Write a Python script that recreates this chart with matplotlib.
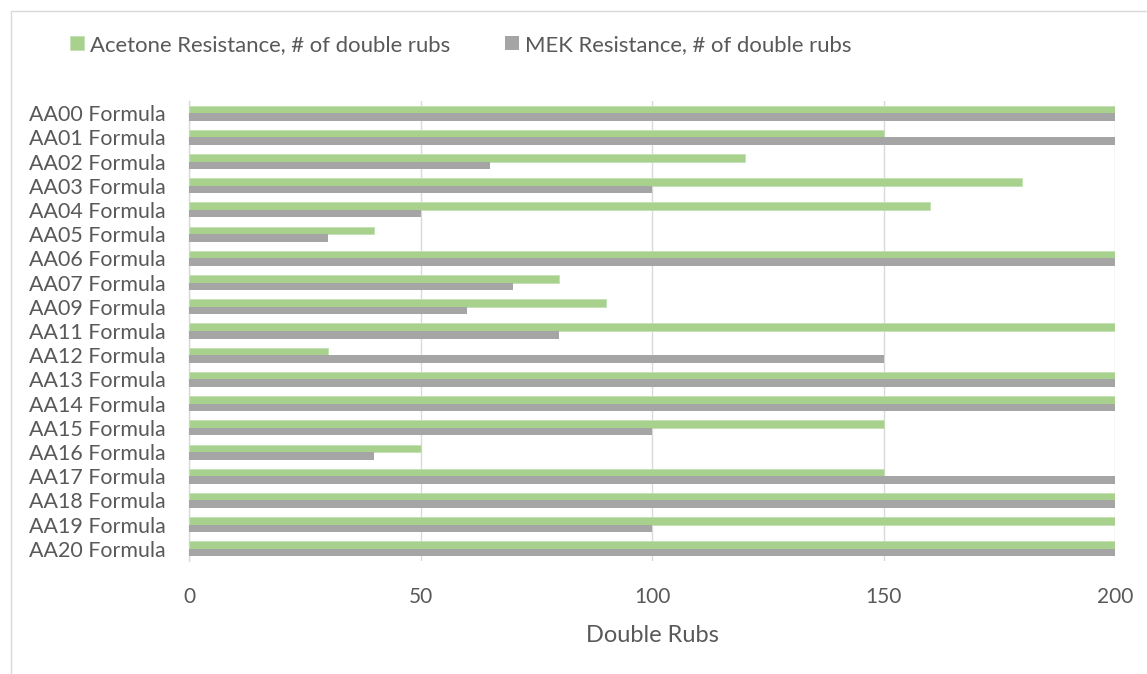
import matplotlib
matplotlib.use("Agg")
import matplotlib.pyplot as plt
from matplotlib.patches import Rectangle
import numpy as np

plt.rcParams['font.family'] = ['Lato', 'DejaVu Sans']

categories = ["AA00 Formula", "AA01 Formula", "AA02 Formula", "AA03 Formula",
              "AA04 Formula", "AA05 Formula", "AA06 Formula", "AA07 Formula",
              "AA09 Formula", "AA11 Formula", "AA12 Formula", "AA13 Formula",
              "AA14 Formula", "AA15 Formula", "AA16 Formula", "AA17 Formula",
              "AA18 Formula", "AA19 Formula", "AA20 Formula"]
acetone = [200, 150, 120, 180, 160, 40, 200, 80, 90, 200, 30, 200, 200, 150, 50, 150, 200, 200, 200]
mek = [200, 200, 65, 100, 50, 30, 200, 70, 60, 80, 150, 200, 200, 100, 40, 200, 200, 100, 200]
xticks = [0, 50, 100, 150, 200]

text_color = "#595959"
green = "#A9D18E"
gray = "#A5A5A5"

fig = plt.figure(figsize=(11.47, 6.74), dpi=100)
W, H = 1147, 674
ax = fig.add_axes([189 / W, 1 - 561 / H, (1115 - 189) / W, (561 - 101) / H])

# outer chart frame
fig.patches.append(Rectangle((11 / W, -0.1), 1.2, 1 - 11 / H + 0.1,
                             transform=fig.transFigure, fill=False,
                             edgecolor="#D9D9D9", linewidth=1.0))

y = np.arange(len(categories))
bh = 0.31
ax.barh(y - bh / 2, acetone, height=bh, color=green, edgecolor="#C5E0B4",
        linewidth=0.6, label="Acetone Resistance, # of double rubs", zorder=3)
ax.barh(y + bh / 2, mek, height=bh, color=gray, linewidth=0,
        label="MEK Resistance, # of double rubs", zorder=3)

ax.set_ylim(len(categories) - 0.5, -0.5)
ax.set_xlim(0, 200)
ax.set_yticks(y)
ax.set_yticklabels(categories, fontsize=15.4, color=text_color)
ax.set_xticks(xticks)
ax.set_xticklabels([str(t) for t in xticks], fontsize=15, color=text_color)
ax.tick_params(axis='both', length=0)
ax.tick_params(axis='x', pad=19)
ax.tick_params(axis='y', pad=17)
ax.grid(axis='x', color="#D9D9D9", linewidth=1.0, zorder=0)
ax.set_axisbelow(True)
for side in ['top', 'right', 'bottom']:
    ax.spines[side].set_visible(False)
ax.spines['left'].set_color("#D9D9D9")
ax.spines['left'].set_linewidth(1.0)

ax.set_xlabel("Double Rubs", fontsize=17, color=text_color, labelpad=13)

handles, labels = ax.get_legend_handles_labels()
leg = fig.legend(handles, labels, loc='center left', bbox_to_anchor=(50 / W, 1 - 45 / H),
                 ncol=2, frameon=False, fontsize=15.9, handlelength=0.63,
                 handleheight=0.63, handletextpad=0.27, columnspacing=2.5,
                 labelcolor=text_color)

fig.savefig("out.png", dpi=100)
